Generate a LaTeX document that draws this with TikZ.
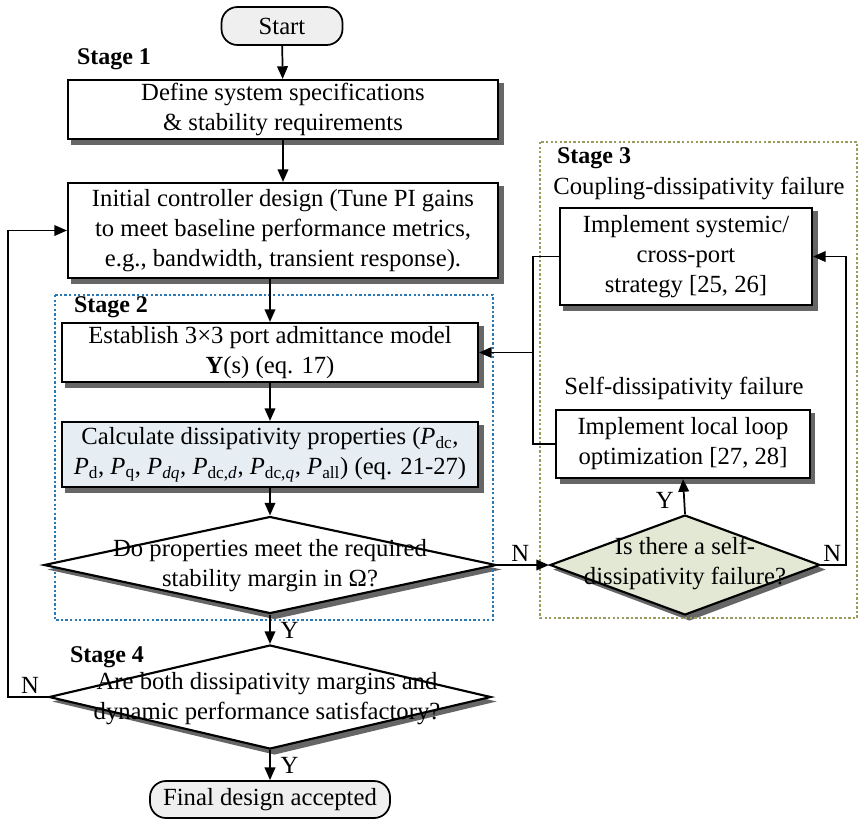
\documentclass[tikz,border=0pt]{standalone}
\usepackage{fontspec}
\setmainfont{Liberation Serif}
\usetikzlibrary{shapes.geometric,arrows.meta,backgrounds}
\definecolor{termfill}{HTML}{EFEFEF}
\definecolor{calcfill}{HTML}{E6EEF3}
\definecolor{selffill}{HTML}{E2E8D3}
\definecolor{stagetwoline}{HTML}{2A78B4}
\definecolor{stagethreeline}{HTML}{9A9C5E}
\newcommand{\Psub}[1]{\textit{P}\textsubscript{#1}}

\begin{document}
\begin{tikzpicture}[x=0.75pt, y=-0.75pt,
	every node/.style={font=\fontsize{18.5}{22.5}\selectfont, align=center},
	box/.style={draw, line width=1.6pt, fill=white, inner sep=0pt},
	terminal/.style={draw, line width=1.3pt, fill=termfill, rounded corners=12pt, inner sep=0pt},
	decision/.style={diamond, draw, line width=1.6pt, fill=white, inner sep=0pt},
	shadowfill/.style={fill=black!60},
	arr/.style={line width=1.3pt, -{Triangle[length=9.5pt,width=8pt]}},
	link/.style={line width=1.3pt},
	stagelabel/.style={font=\fontsize{18}{20}\selectfont\bfseries},
	frame/.style={line width=1.3pt, dash pattern=on 1.8pt off 1.6pt}]
	\useasboundingbox (0,0) rectangle (862,822);

	\draw[frame, stagetwoline] (55,295) rectangle (493,620);
	\draw[frame, stagethreeline] (540,142) rectangle (857,618);

	\node[terminal, minimum width=90.75pt, minimum height=28.5pt] (start) at (282,26) {Start};
	\node[box, minimum width=322.5pt, minimum height=44.25pt] (spec) at (283,109.5) {Define system specifications\\\& stability requirements};
	\node[box, minimum width=322.5pt, minimum height=71.25pt] (ctrl) at (283,230.5) {Initial controller design (Tune PI gains\\to meet baseline performance metrics,\\e.g., bandwidth, transient response).};
	\node[box, minimum width=312pt, minimum height=44.25pt] (model) at (270,352.5) {Establish 3×3 port admittance model\\\textbf{Y}(s) (eq. 17)};
	\node[box, fill=calcfill, minimum width=312pt, minimum height=48.75pt] (calc) at (270,454.5) {Calculate dissipativity properties (\Psub{dc},\\\Psub{d}, \Psub{q}, \Psub{\textit{dq}}, \Psub{dc,\textit{d}}, \Psub{dc,\textit{q}}, \Psub{all}) (eq. 21-27)};
	\node[decision, minimum width=339pt, minimum height=72.75pt] (margin) at (270,565) {};
	\node (margintxt) at (270,566) {Do properties meet the required\\stability margin in Ω?};
	\node[decision, minimum width=331.5pt, minimum height=78pt] (perf) at (270,697) {};
	\node (perftxt) at (267,699) {Are both dissipativity margins and\\dynamic performance satisfactory?};
	\node[terminal, minimum width=180pt, minimum height=27.75pt] (final) at (270,799.5) {Final design accepted};

	\node[box, minimum width=189pt, minimum height=72.75pt] (cross) at (686,256.5) {Implement systemic/\\cross-port\\strategy [25, 26]};
	\node[box, minimum width=190pt, minimum height=51pt] (local) at (683,444) {Implement local loop\\optimization [27, 28]};
	\node[decision, fill=selffill, minimum width=202.5pt, minimum height=75pt] (self) at (685,565) {};
	\node (selftxt) at (685,563) {Is there a self-\\dissipativity failure?};

	\begin{pgfonlayer}{background}
		\foreach \b in {spec,ctrl,model,calc,cross,local}
			\fill[shadowfill] ([shift={(4.5,4.5)}]\b.north west) rectangle ([shift={(4.5,4.5)}]\b.south east);
		\foreach \d in {margin,perf,self}
			\fill[shadowfill] ([shift={(4.5,4.5)}]\d.north) -- ([shift={(4.5,4.5)}]\d.east) -- ([shift={(4.5,4.5)}]\d.south) -- ([shift={(4.5,4.5)}]\d.west) -- cycle;
	\end{pgfonlayer}

	\node[stagelabel] (s1) at (114,59) {Stage 1};
	\node[stagelabel] (s2) at (111,307) {Stage 2};
	\node[stagelabel] (s3) at (594,158) {Stage 3};
	\node[stagelabel] (s4) at (107,657) {Stage 4};
	\node (couple) at (699,188) {Coupling-dissipativity failure};
	\node (selfhead) at (684,388) {Self-dissipativity failure};

	\coordinate (jn) at (533,352.5);
	\coordinate (nright) at (846,565);
	\coordinate (fb) at (8,697);

	\draw[arr] (start) -- (spec);
	\draw[arr] (spec) -- (ctrl);
	\draw[arr] (ctrl.south -| model.north) -- (model.north);
	\draw[arr] (model) -- (calc);
	\draw[arr] (calc) -- (margin);
	\draw[arr] (margin) -- node[right=4pt, pos=0.55] (y1) {Y} (perf);
	\draw[arr] (perf) -- node[right=4pt, pos=0.5] (y2) {Y} (final);
	\draw[arr] (margin.east) -- node[above=-1pt, xshift=-2pt, pos=0.5] (n1) {N} (self.west);
	\draw[arr] (self.north) -- node[left=4pt, pos=0.4] (y3) {Y} (local.south);
	\draw[arr] (self.east) -- node[above=-1pt, pos=0.45] (n2) {N} (nright) |- (cross.east);
	\draw[link] (cross.west) -| (jn);
	\draw[link] (local.west) -| (jn);
	\draw[arr] (jn) -- (model.east);
	\draw[arr] (perf.west) -- node[above=-1pt, pos=0.45] (n3) {N} (fb) |- (ctrl.west);
\end{tikzpicture}
\end{document}
